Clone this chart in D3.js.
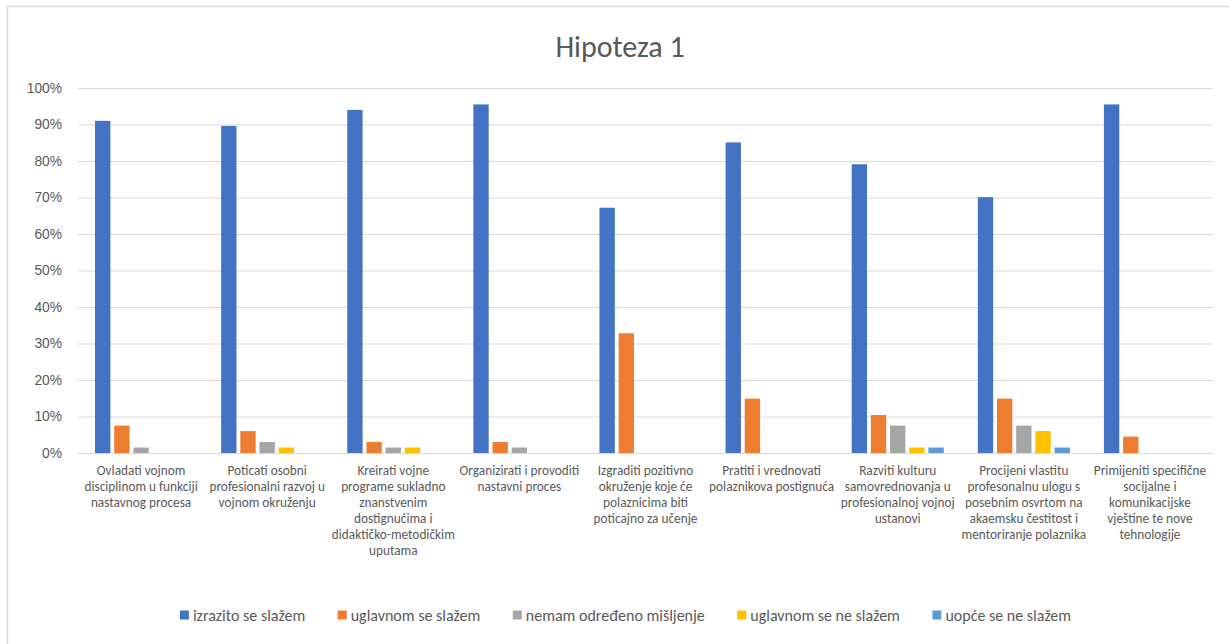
<!DOCTYPE html>
<html lang="hr">
<head>
<meta charset="UTF-8">
<title>Hipoteza 1</title>
<style>
  * { margin: 0; padding: 0; box-sizing: border-box; }
  body { background: #fff; overflow: hidden; font-family: Carlito, Calibri, Lato, sans-serif; }
  svg text { fill: #595959; }
</style>
</head>
<body>
<svg id="chart" width="1229" height="644"></svg>
<script src="https://cdn.jsdelivr.net/npm/d3@7"></script>
<script>
// categories (line breaks as wrapped in the original)
const categories = [
  "Ovladati vojnom\ndisciplinom u funkciji\nnastavnog procesa",
  "Poticati osobni\nprofesionalni razvoj u\nvojnom okruženju",
  "Kreirati vojne\nprograme sukladno\nznanstvenim\ndostignućima i\ndidaktičko-metodičkim\nuputama",
  "Organizirati i provoditi\nnastavni proces",
  "Izgraditi pozitivno\nokruženje koje će\npolaznicima biti\npoticajno za učenje",
  "Pratiti i vrednovati\npolaznikova postignuća",
  "Razviti kulturu\nsamovrednovanja u\nprofesionalnoj vojnoj\nustanovi",
  "Procijeni vlastitu\nprofesonalnu ulogu s\nposebnim osvrtom na\nakaemsku čestitost i\nmentoriranje polaznika",
  "Primijeniti specifične\nsocijalne i\nkomunikacijske\nvještine te nove\ntehnologije"
];

const seriesNames = ["izrazito se slažem", "uglavnom se slažem", "nemam određeno mišljenje", "uglavnom se ne slažem", "uopće se ne slažem"];
const seriesColors = ["#4472C4", "#ED7D31", "#A5A5A5", "#FFC000", "#5B9BD5"];

// values in %
const izrazito    = [91.0, 89.6, 94.0, 95.5, 67.2, 85.1, 79.1, 70.1, 95.5];
const uglavnom    = [7.5, 6.0, 3.0, 3.0, 32.8, 14.9, 10.4, 14.9, 4.5];
const nemam       = [1.5, 3.0, 1.5, 1.5, 0, 0, 7.5, 7.5, 0];
const uglavnomNe  = [0, 1.5, 1.5, 0, 0, 0, 1.5, 6.0, 0];
const uopce       = [0, 0, 0, 0, 0, 0, 1.5, 1.5, 0];
const seriesValues = [izrazito, uglavnom, nemam, uglavnomNe, uopce];

const yTicks = [0, 10, 20, 30, 40, 50, 60, 70, 80, 90, 100];

const svg = d3.select("#chart");
const margin = { left: 78, right: 1213, top: 88, bottom: 453 };
const fontSize = 13.3;

// frame
svg.append("path").attr("d", "M7.5,644 V6.5 H1229").attr("fill", "none").attr("stroke", "#d9d9d9").attr("stroke-width", 1.5);

// title
svg.append("text").attr("x", 620).attr("y", 57).attr("text-anchor", "middle")
  .attr("font-size", 30).text("Hipoteza 1");

const x0 = d3.scaleBand().domain(categories).range([margin.left, margin.right]).paddingInner(0.27).paddingOuter(0.135);
const x1 = d3.scaleBand().domain(seriesNames).range([0, x0.bandwidth()]).paddingInner(0.2);
const y = d3.scaleLinear().domain([0, 100]).range([margin.bottom, margin.top]);

// grid + y axis
const yAxis = svg.append("g").attr("transform", `translate(${margin.left},0)`)
  .call(d3.axisLeft(y).tickValues(yTicks).tickFormat(d => d + "%")
    .tickSize(-(margin.right - margin.left)).tickPadding(16));
yAxis.select(".domain").remove();
yAxis.selectAll(".tick line").attr("stroke", "#d9d9d9").attr("stroke-width", 1.2);
yAxis.selectAll(".tick text").attr("font-size", 13.8).attr("font-family", null).style("fill", "#595959");

// bars
const groups = svg.append("g").selectAll("g").data(categories).join("g")
  .attr("transform", d => `translate(${x0(d)},0)`);
groups.selectAll("rect")
  .data((d, i) => seriesNames.map((s, j) => ({ s, v: seriesValues[j][i], c: seriesColors[j] })))
  .join("rect")
  .attr("x", d => x1(d.s))
  .attr("width", x1.bandwidth())
  .attr("y", d => y(d.v))
  .attr("height", d => y(0) - y(d.v))
  .attr("fill", d => d.c);

// category labels
const catLabels = svg.append("g").selectAll("text").data(categories).join("text")
  .attr("text-anchor", "middle").attr("font-size", fontSize)
  .attr("transform", d => `translate(${x0(d) + x0.bandwidth() / 2},${margin.bottom + 22})`);
catLabels.selectAll("tspan").data(d => d.split("\n")).join("tspan")
  .attr("x", 0).attr("y", (d, i) => i * 16).text(d => d);

// legend
const legend = svg.append("g").attr("transform", "translate(0,615)");
const items = legend.selectAll("g").data(seriesNames).join("g");
items.append("rect").attr("width", 9).attr("height", 9).attr("y", -4.5).attr("fill", (d, i) => seriesColors[i]);
items.append("text").attr("x", 13).attr("dy", "0.35em").attr("font-size", 16).text(d => d);
let widths = [];
items.each(function () { widths.push(13 + this.querySelector("text").getComputedTextLength()); });
const gap = 32.5;
const total = d3.sum(widths) + gap * (widths.length - 1);
let cx = 625.5 - total / 2;
items.attr("transform", (d, i) => { const t = `translate(${cx},0)`; cx += widths[i] + gap; return t; });
</script>
</body>
</html>
